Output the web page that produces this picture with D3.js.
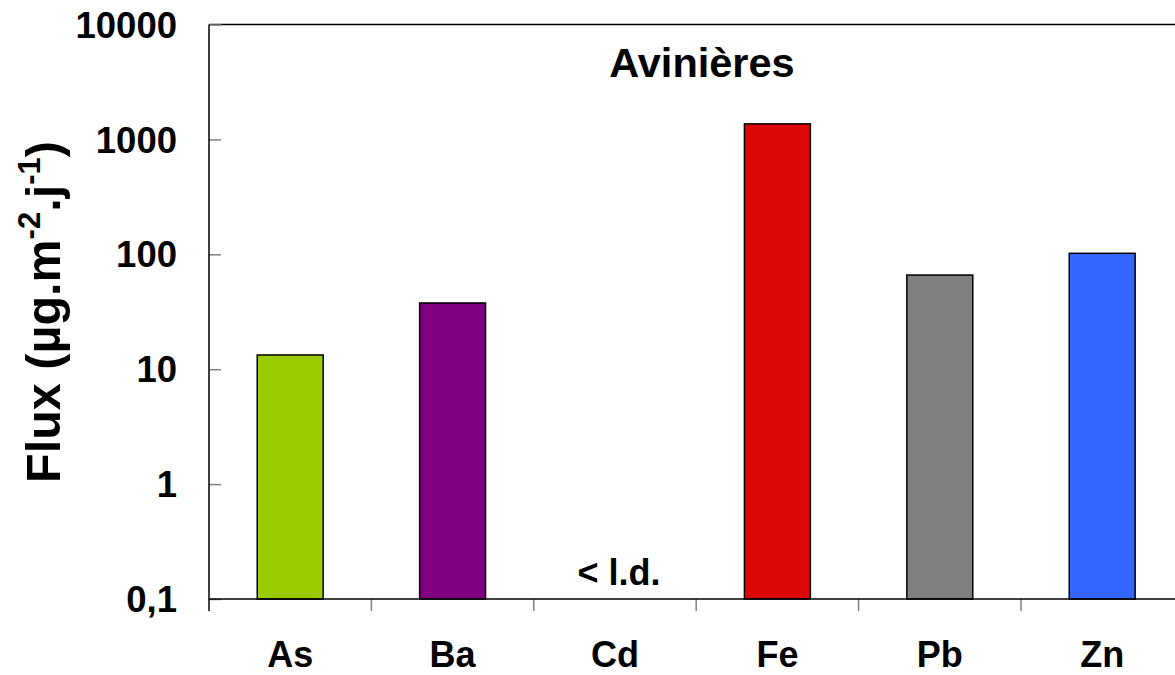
<!DOCTYPE html>
<html><head><meta charset="utf-8">
<script src="https://cdn.jsdelivr.net/npm/d3@7"></script>
<style>html,body{margin:0;padding:0;background:#fff;} svg{display:block;font-family:"Liberation Sans",Arial,sans-serif;font-weight:bold;}</style>
</head><body>
<svg id="c" width="1175" height="675"></svg>
<script>
const categories = ["As","Ba","Cd","Fe","Pb","Zn"];
const values = [13.3, 37.7, null, 1365, 66, 102];
const colors = ["#99CC00","#800080","#DD0806","#DD0806","#808080","#3366FF"];
const tickValues = [0.1, 1, 10, 100, 1000, 10000];
const tickLabels = ["0,1","1","10","100","1000","10000"];
const title = "Avinières";
const belowLimitLabel = "< l.d.";

(function(){
const svg = d3.select("#c");
const pLeft = 209, pTop = 24.5, pBottom = 599, step = 162.4;
const x = d3.scaleBand().domain(categories).range([pLeft, pLeft + step*categories.length])
  .paddingInner(0.594).paddingOuter(0.297);
const y = d3.scaleLog().domain([0.1, 10000]).range([pBottom, pTop]);

// bars
categories.forEach((c,i)=>{
  if (values[i] == null) return;
  svg.append("rect").attr("x", x(c)).attr("y", y(values[i]))
    .attr("width", x.bandwidth()).attr("height", pBottom - y(values[i]))
    .attr("fill", colors[i]).attr("stroke","#000").attr("stroke-width",1.5);
});

// top border
svg.append("line").attr("x1", pLeft).attr("x2", 1175).attr("y1", pTop).attr("y2", pTop)
  .attr("stroke","#000").attr("stroke-width",1.5);

// y axis
const yAxis = d3.axisRight(y).tickValues(tickValues).tickSize(12).tickFormat("");
const gy = svg.append("g").attr("transform",`translate(${pLeft},0)`).call(yAxis);
gy.select(".domain").remove();
gy.selectAll(".tick line").attr("stroke","#808080").attr("stroke-width",1.5);
svg.append("line").attr("x1",pLeft).attr("x2",pLeft).attr("y1",pTop).attr("y2",pBottom+12)
  .attr("stroke","#000").attr("stroke-width",1.5);
tickValues.forEach((v,i)=>{
  svg.append("text").attr("x",177).attr("y",y(v)).attr("dy","0.36em")
    .attr("text-anchor","end").attr("font-size",36.5).text(tickLabels[i]);
});

// x axis
const xTicks = d3.range(1, categories.length+1).map(i=>pLeft + step*i);
xTicks.forEach(t=>{
  svg.append("line").attr("x1",t).attr("x2",t).attr("y1",pBottom).attr("y2",pBottom+12)
    .attr("stroke","#808080").attr("stroke-width",1.5);
});
svg.append("line").attr("x1",pLeft).attr("x2",1175).attr("y1",pBottom).attr("y2",pBottom)
  .attr("stroke","#000").attr("stroke-width",1.5);
categories.forEach(c=>{
  svg.append("text").attr("x", x(c)+x.bandwidth()/2).attr("y",667)
    .attr("text-anchor","middle").attr("font-size",36).text(c);
});

// < l.d.
svg.append("text").attr("x", 619).attr("y",585)
  .attr("text-anchor","middle").attr("font-size",36).text(belowLimitLabel);

// title
svg.append("text").attr("x",702).attr("y",77).attr("text-anchor","middle")
  .attr("font-size",41.5).text(title);

// y title
const yt = svg.append("text").attr("transform","translate(60,312) rotate(-90)")
  .attr("text-anchor","middle").attr("font-size",48.5);
yt.append("tspan").text("Flux (µg.m");
yt.append("tspan").attr("font-size",31).attr("dy",-20).text("-2");
yt.append("tspan").attr("dy",20).text(".j");
yt.append("tspan").attr("font-size",31).attr("dy",-20).text("-1");
yt.append("tspan").attr("dy",20).text(")");
})();
</script>
</body></html>
